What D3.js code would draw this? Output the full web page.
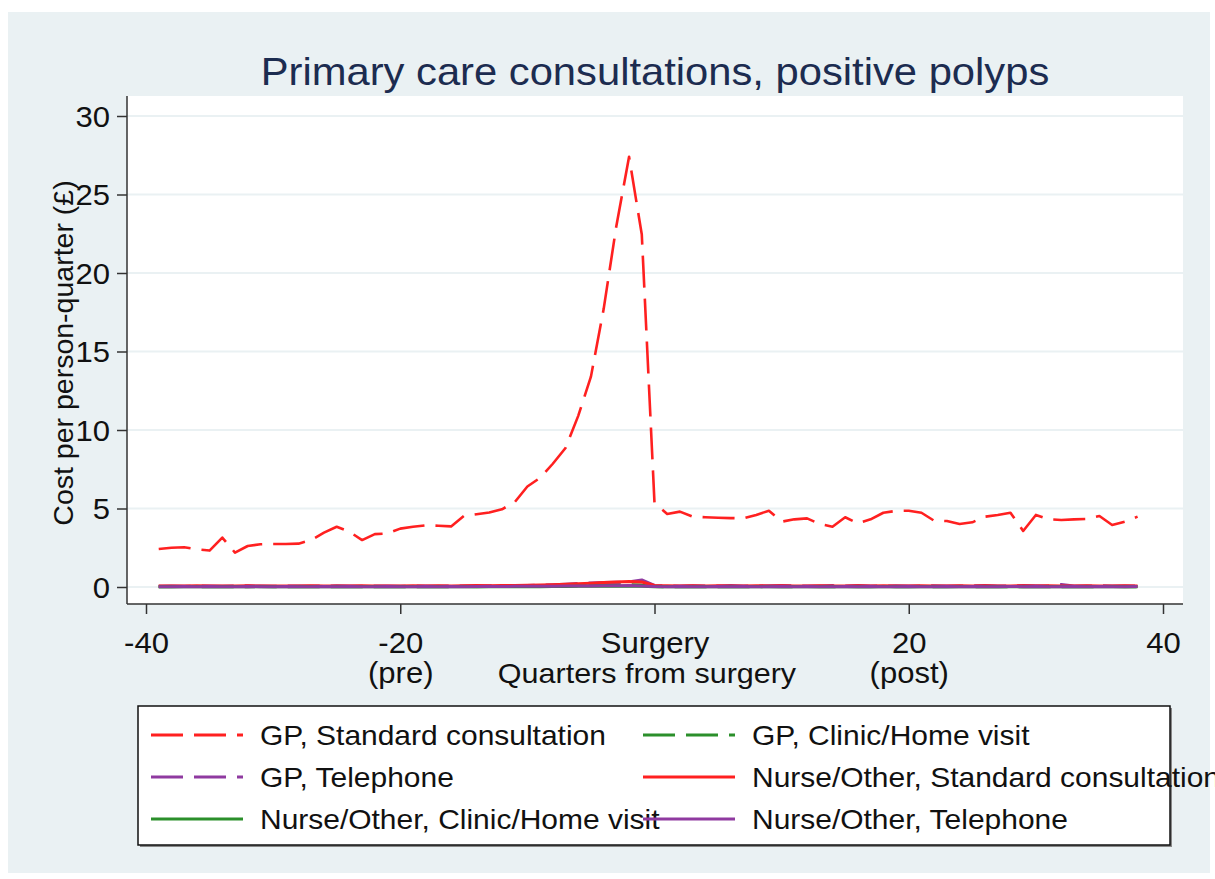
<!DOCTYPE html>
<html><head><meta charset="utf-8">
<script src="https://cdn.jsdelivr.net/npm/d3@7"></script>
<style>
body{margin:0;background:#fff}
svg{display:block}
text{font-family:"Liberation Sans",Arial,sans-serif}
</style>
</head><body>
<svg id="c" width="1215" height="879"></svg>
<script>
// ---------- data ----------
const quarters = [-39,-38,-37,-36,-35,-34,-33,-32,-31,-30,-29,-28,-27,-26,-25,-24,-23,-22,-21,-20,
  -19,-18,-17,-16,-15,-14,-13,-12,-11,-10,-9,-8,-7,-6,-5,-4,-3,-2,-1,
  0,1,2,3,4,5,6,7,8,9,10,11,12,13,14,15,16,17,18,19,20,21,22,23,24,25,26,27,28,29,30,31,32,33,34,35,36,37,38];

const gpStandard = [2.42,2.50,2.53,2.40,2.32,3.15,2.19,2.61,2.72,2.74,2.74,2.76,2.99,3.46,3.84,3.52,2.99,3.37,3.41,3.72,
  3.84,3.93,3.90,3.86,4.52,4.63,4.75,4.95,5.40,6.40,6.95,7.85,8.85,10.90,13.40,17.70,23.00,27.40,22.45,
  5.35,4.65,4.80,4.48,4.44,4.41,4.39,4.37,4.59,4.86,4.16,4.31,4.37,4.01,3.84,4.44,4.05,4.31,4.73,4.85,
  4.86,4.73,4.22,4.20,4.01,4.12,4.48,4.59,4.73,3.57,4.59,4.31,4.27,4.31,4.33,4.52,3.95,4.16,4.48];

const gpClinic = [0.02,0.02,0.03,0.02,0.02,0.03,0.02,0.02,0.03,0.02,0.02,0.02,0.03,0.02,0.02,0.03,0.02,0.02,0.03,0.02,
  0.02,0.03,0.02,0.02,0.03,0.02,0.03,0.03,0.04,0.04,0.05,0.06,0.07,0.08,0.10,0.12,0.14,0.15,0.12,
  0.03,0.02,0.02,0.03,0.02,0.02,0.03,0.02,0.02,0.03,0.02,0.02,0.03,0.02,0.02,0.03,0.02,0.02,0.03,0.02,
  0.02,0.03,0.02,0.02,0.03,0.02,0.02,0.03,0.02,0.02,0.03,0.02,0.02,0.03,0.02,0.02,0.03,0.02,0.02];

const gpTelephone = [0.05,0.06,0.05,0.06,0.07,0.05,0.06,0.08,0.06,0.05,0.06,0.07,0.05,0.06,0.08,0.06,0.05,0.07,0.06,0.05,
  0.06,0.07,0.05,0.06,0.07,0.06,0.08,0.07,0.09,0.10,0.12,0.15,0.18,0.22,0.26,0.28,0.30,0.32,0.45,
  0.10,0.07,0.06,0.08,0.06,0.07,0.10,0.07,0.06,0.08,0.10,0.07,0.06,0.07,0.09,0.06,0.10,0.07,0.06,0.08,
  0.07,0.06,0.08,0.07,0.06,0.07,0.09,0.06,0.07,0.10,0.08,0.07,0.16,0.07,0.06,0.08,0.07,0.06,0.07];

const nurseStandard = [0.06,0.07,0.06,0.08,0.07,0.06,0.07,0.08,0.06,0.07,0.07,0.06,0.08,0.07,0.06,0.07,0.08,0.07,0.06,0.07,
  0.08,0.07,0.08,0.07,0.08,0.09,0.08,0.09,0.10,0.11,0.12,0.14,0.17,0.20,0.24,0.28,0.32,0.35,0.32,
  0.10,0.08,0.07,0.08,0.07,0.08,0.07,0.07,0.08,0.07,0.08,0.07,0.07,0.08,0.07,0.07,0.08,0.07,0.08,0.07,
  0.07,0.08,0.07,0.07,0.08,0.07,0.08,0.07,0.07,0.08,0.07,0.08,0.07,0.07,0.08,0.07,0.07,0.08,0.07];

const nurseClinic = [0.01,0.01,0.01,0.01,0.01,0.01,0.01,0.01,0.01,0.01,0.01,0.01,0.01,0.01,0.01,0.01,0.01,0.01,0.01,0.01,
  0.01,0.01,0.01,0.01,0.01,0.01,0.01,0.01,0.02,0.02,0.02,0.03,0.03,0.04,0.04,0.05,0.05,0.06,0.04,
  0.01,0.01,0.01,0.01,0.01,0.01,0.01,0.01,0.01,0.01,0.01,0.01,0.01,0.01,0.01,0.01,0.01,0.01,0.01,0.01,
  0.01,0.01,0.01,0.01,0.01,0.01,0.01,0.01,0.01,0.01,0.01,0.01,0.01,0.01,0.01,0.01,0.01,0.01,0.01];

const nurseTelephone = [0.02,0.02,0.03,0.02,0.03,0.02,0.02,0.03,0.02,0.02,0.03,0.02,0.02,0.03,0.02,0.03,0.02,0.02,0.03,0.02,
  0.02,0.03,0.02,0.03,0.02,0.03,0.03,0.03,0.04,0.04,0.05,0.05,0.06,0.07,0.07,0.08,0.08,0.09,0.07,
  0.03,0.02,0.03,0.02,0.02,0.03,0.02,0.03,0.02,0.02,0.03,0.02,0.03,0.02,0.02,0.03,0.02,0.03,0.02,0.02,
  0.03,0.02,0.02,0.03,0.02,0.03,0.02,0.02,0.03,0.02,0.03,0.02,0.02,0.03,0.02,0.03,0.02,0.02,0.03];

const seriesNames = ["GP, Standard consultation","GP, Clinic/Home visit","GP, Telephone",
  "Nurse/Other, Standard consultation","Nurse/Other, Clinic/Home visit","Nurse/Other, Telephone"];
const seriesValues = [gpStandard, gpClinic, gpTelephone, nurseStandard, nurseClinic, nurseTelephone];
const seriesColors = ["#ff2020","#2b8f2b","#8f3aa0","#ff2020","#2b8f2b","#8f3aa0"];
const seriesDashed = [true,true,true,false,false,false];

const yTicks = [0,5,10,15,20,25,30];
const xTicks = [-40,-20,0,20,40];
const xTickLabels = [["-40"],["-20","(pre)"],["Surgery"],["20","(post)"],["40"]];

const titleText = "Primary care consultations, positive polyps";
const yTitle = "Cost per person-quarter (£)";
const xTitle = "Quarters from surgery";

// ---------- layout ----------
const STRETCH = 1.07;
function stretch(sel){
  sel.each(function(){
    const w = this.getComputedTextLength();
    d3.select(this).attr("textLength", w*STRETCH).attr("lengthAdjust","spacingAndGlyphs");
  });
}

const svg = d3.select("#c");
const plot = {left:127, top:96, right:1183, bottom:604};
const x = d3.scaleLinear().domain([-40,40]).range([146,1163]);
const y = d3.scaleLinear().domain([0,30]).range([587,116]);
const dash = "32,11";

svg.append("rect").attr("x",8).attr("y",12).attr("width",1202).attr("height",861).attr("fill","#eaf1f3");
svg.append("rect").attr("x",plot.left).attr("y",plot.top)
  .attr("width",plot.right-plot.left).attr("height",plot.bottom-plot.top).attr("fill","#fff");

// gridlines
svg.append("g").selectAll("line").data(yTicks).join("line")
  .attr("x1",plot.left).attr("x2",plot.right)
  .attr("y1",d=>y(d)).attr("y2",d=>y(d))
  .attr("stroke","#eaf1f3").attr("stroke-width",2);

// title
svg.append("text").attr("x",655).attr("y",85).attr("text-anchor","middle")
  .attr("font-size",39).attr("fill","#1c2c50").text(titleText).call(stretch);

// y axis
const yAx = svg.append("g").attr("transform",`translate(${plot.left},0)`)
  .call(d3.axisLeft(y).tickValues(yTicks).tickSize(10).tickPadding(7));
yAx.select(".domain").remove();
yAx.selectAll(".tick line").attr("stroke","#333").attr("stroke-width",1.5);
yAx.selectAll(".tick text").attr("font-size",29).attr("fill","#111").attr("dy","0.35em")
  .attr("font-family","Liberation Sans, Arial, sans-serif").call(stretch);
svg.append("line").attr("x1",plot.left).attr("x2",plot.left).attr("y1",plot.top).attr("y2",plot.bottom)
  .attr("stroke","#333").attr("stroke-width",1.5);

// x axis
const xAx = svg.append("g").attr("transform",`translate(0,${plot.bottom})`)
  .call(d3.axisBottom(x).tickValues(xTicks).tickSize(10).tickFormat(""));
xAx.select(".domain").remove();
xAx.selectAll(".tick line").attr("stroke","#333").attr("stroke-width",1.5);
xAx.selectAll(".tick").each(function(d,i){
  xTickLabels[i].forEach((s,j)=>{
    d3.select(this).append("text").attr("text-anchor","middle").attr("x",0).attr("y",49 + j*30)
      .attr("font-size",29).attr("fill","#111").attr("font-family","Liberation Sans, Arial, sans-serif")
      .text(s).call(stretch);
  });
});
svg.append("line").attr("x1",plot.left).attr("x2",plot.right).attr("y1",plot.bottom).attr("y2",plot.bottom)
  .attr("stroke","#333").attr("stroke-width",1.5);

// axis titles
svg.append("text").attr("transform","translate(73,353) rotate(-90)").attr("text-anchor","middle")
  .attr("font-size",28.5).attr("fill","#111").text(yTitle);
svg.append("text").attr("x",647).attr("y",683).attr("text-anchor","middle")
  .attr("font-size",28.5).attr("fill","#111").text(xTitle).call(stretch);

// lines
const line = d3.line().x((d,i)=>x(quarters[i])).y(d=>y(d));
seriesValues.forEach((vals,k)=>{
  svg.append("path").datum(vals).attr("d",line).attr("fill","none")
    .attr("stroke",seriesColors[k]).attr("stroke-width",k===0?2.6:3)
    .attr("stroke-linejoin","round")
    .attr("stroke-dasharray",seriesDashed[k]?dash:null);
});

// legend
const lg = svg.append("g");
lg.append("rect").attr("x",140).attr("y",708).attr("width",1032).attr("height",139).attr("fill","#888");
lg.append("rect").attr("x",138).attr("y",706).attr("width",1032).attr("height",139)
  .attr("fill","#fff").attr("stroke","#111").attr("stroke-width",1.5);
const colX = [151,643], textX=[260,752], rowY=[735,777,819];
seriesNames.forEach((name,k)=>{
  const c = k%2, r = Math.floor(k/2);
  lg.append("line").attr("x1",colX[c]).attr("x2",colX[c]+92).attr("y1",rowY[r]).attr("y2",rowY[r])
    .attr("stroke",seriesColors[k]).attr("stroke-width",3)
    .attr("stroke-dasharray",seriesDashed[k]?dash:null);
  lg.append("text").attr("x",textX[c]).attr("y",rowY[r]+10).attr("font-size",28).attr("fill","#111")
    .text(name).call(stretch);
});
</script>
</body></html>
